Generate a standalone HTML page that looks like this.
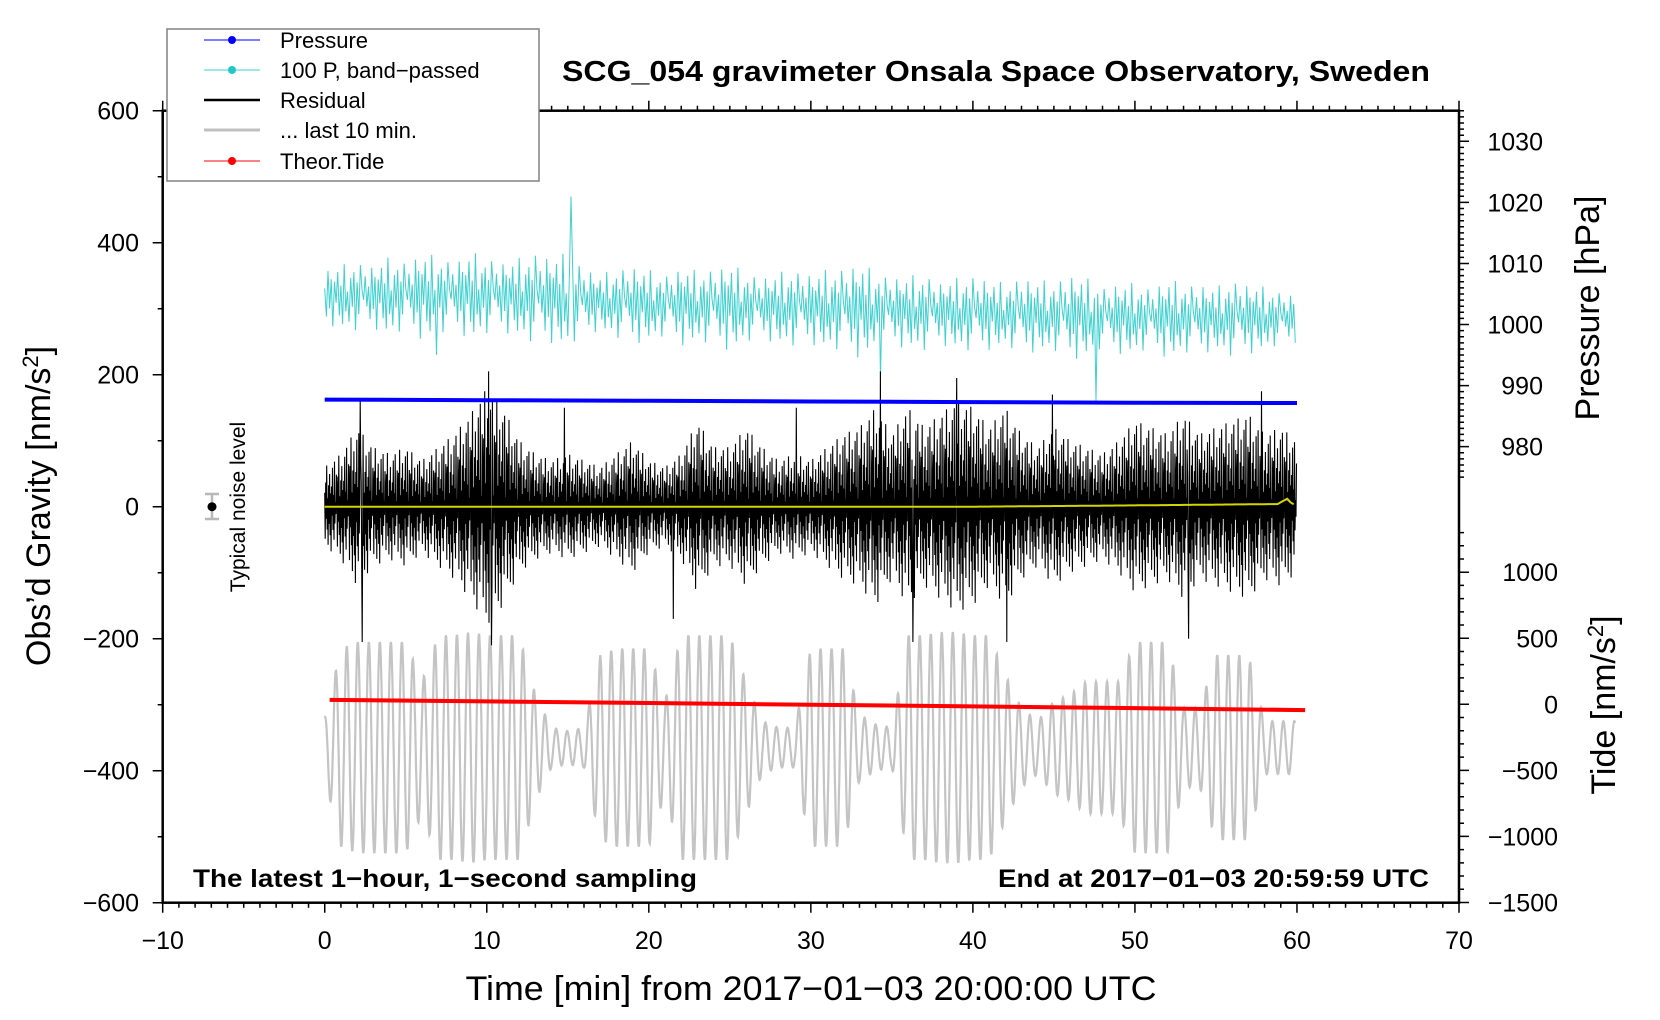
<!DOCTYPE html>
<html><head><meta charset="utf-8"><title>SCG_054 gravimeter</title>
<style>
html,body{margin:0;padding:0;background:#fff;}
svg{display:block;font-family:"Liberation Sans",Arial,sans-serif;}
</style></head>
<body>
<svg id="chart" width="1660" height="1020" viewBox="0 0 1660 1020" xmlns="http://www.w3.org/2000/svg">
<rect x="0" y="0" width="1660" height="1020" fill="#fff"/>
<g id="plot"></g>
<g id="axes"></g>
<g id="labels"></g>
</svg>
<script>
// ---- data ----
const xTicks = [-10, 0, 10, 20, 30, 40, 50, 60, 70];
const yTicks = [600, 400, 200, 0, -200, -400, -600];
const pTicks = [980, 990, 1000, 1010, 1020, 1030];
const tideTicks = [1000, 500, 0, -500, -1000, -1500];
// residual envelope amplitude per minute (nm/s^2)
const residAmp = [60,80,120,90,80,90,70,90,110,140,180,150,100,80,70,80,70,60,80,100,70,60,80,130,90,90,120,90,70,80,70,90,110,120,150,110,150,120,140,160,150,120,150,110,90,120,100,90,80,100,130,120,110,140,110,120,130,140,110,120,100];
const residSpikeT = [2.3, 2.2, 10.1, 10.3, 14.8, 21.5, 29.1, 34.3, 36.3, 39.0, 42.1, 44.9, 53.3, 57.8];
const residSpikeV = [-205, 160, 205, -210, 150, -170, 150, 205, -205, 195, -205, 170, -200, 175];
// band-passed pressure (100 P) centre per 10 min and amplitude per minute
const cyanCenterT = [0, 10, 20, 30, 40, 50, 60];
const cyanCenter = [318, 320, 305, 300, 292, 285, 285];
const cyanAmp = [35,40,45,40,50,45,55,50,45,55,50,45,50,60,55,60,45,35,45,50,45,40,50,45,50,55,45,40,45,50,45,50,55,60,50,45,45,50,40,45,50,45,40,50,45,45,55,50,40,45,45,40,50,45,45,40,50,45,40,35,30];
const cyanSpikeT = [15.2, 47.6, 34.3, 6.9];
const cyanSpikeV = [470, 160, 195, 230];
// pressure [hPa]
const presT = [0, 10, 20, 30, 40, 50, 60];
const presV = [987.7, 987.6, 987.5, 987.4, 987.3, 987.2, 987.15];
// yellow smoothed residual
const yelT = [0, 10, 20, 30, 40, 50, 58.8, 59.4, 59.7, 60];
const yelV = [0, 0, 0, 0, 0, 2, 4, 12, 4, 3];
// theoretical tide [nm/s^2]
const tideT = [0.3, 10, 20, 30, 40, 50, 60.5];
const tideV = [33, 22, 10, -3, -16, -29, -44];
// last 10 min (gray) amplitude per minute about its centre
const grayCenter = -365;
const grayAmp = [45,150,160,160,160,160,100,170,170,175,170,170,170,80,30,25,30,140,150,150,150,70,170,170,170,170,100,40,30,30,150,150,150,50,35,30,170,170,175,175,170,170,110,60,40,70,80,100,100,100,160,160,160,60,60,140,140,140,40,40,40];

// ---- scales ----
const X0 = 162.7, X1 = 1459, Y0 = 110.7, Y1 = 902.7;
const xs = t => X0 + (t + 10) / 80 * (X1 - X0);
const ys = v => 506.7 - v * 0.66;
const yp = p => 141.3 + (1030 - p) * 6.107;
const yt = v => 704.3 - v * 0.1321;
const NS = "http://www.w3.org/2000/svg";
function mk(tag, attrs, parent) {
  const e = document.createElementNS(NS, tag);
  for (const k in attrs) e.setAttribute(k, attrs[k]);
  parent.appendChild(e);
  return e;
}
function interp(ts, vs, t) {
  if (t <= ts[0]) return vs[0];
  for (let i = 1; i < ts.length; i++) if (t <= ts[i]) {
    const f = (t - ts[i-1]) / (ts[i] - ts[i-1]);
    return vs[i-1] + f * (vs[i] - vs[i-1]);
  }
  return vs[vs.length - 1];
}
const perMin = arr => t => { const i = Math.min(Math.floor(t), arr.length - 2); const f = t - i; return arr[i] + f * (arr[i+1] - arr[i]); };
const plot = document.getElementById('plot');
const axes = document.getElementById('axes');
const labels = document.getElementById('labels');

// gray last-10-min curve
{
  const a = perMin(grayAmp); let d = '';
  for (let t = 0; t <= 59.9; t += 0.02) {
    const v = grayCenter + a(t) * Math.cos(2 * Math.PI * t / 0.68);
    d += (d ? 'L' : 'M') + xs(t).toFixed(1) + ',' + ys(v).toFixed(1);
  }
  const g = mk('path', {d: d, fill: 'none', stroke: '#c4c4c4', 'stroke-width': 2.2}, plot);
  
  
}
// cyan band-passed pressure
{
  const pat = [0.3,-0.7,0.9,-0.4,0.6,-1,0.5,-0.2,0.8,-0.6,0.35,-0.85,1,-0.45,0.15,-0.75,0.55,-0.3,0.7,-0.95,0.4,-0.5,0.9,0.2,-0.1,0.6,-0.3];
  const a = perMin(cyanAmp); let d = ''; let i = 0;
  for (let t = 0; t <= 60; t += 0.1, i++) {
    let v = interp(cyanCenterT, cyanCenter, t) + 1.2 * a(t) * pat[i % pat.length];
    for (let k = 0; k < cyanSpikeT.length; k++) if (Math.abs(t - cyanSpikeT[k]) < 0.05) v = cyanSpikeV[k];
    d += (d ? 'L' : 'M') + xs(t).toFixed(1) + ',' + ys(v).toFixed(1);
  }
  const c = mk('path', {d: d, fill: 'none', stroke: '#3fd0d0', 'stroke-width': 1}, plot);
  
  
}
// black residual
{
  const pat = [0.35,-0.8,0.6,-0.3,1.0,-0.55,0.2,-0.9,0.5,-0.4,0.75,-0.65,0.3,-1.0,0.45,-0.2,0.85,-0.5,0.25,-0.7,0.95,-0.35,0.1,-0.15,0.65];
  const a = perMin(residAmp); let d = ''; let i = 0;
  for (let t = 0; t <= 60; t += 0.03, i++) {
    let v = a(t) * pat[i % pat.length];
    for (let k = 0; k < residSpikeT.length; k++) if (Math.abs(t - residSpikeT[k]) < 0.015) v = residSpikeV[k];
    d += (d ? 'L' : 'M') + xs(t).toFixed(1) + ',' + ys(v).toFixed(1);
  }
  const r = mk('path', {d: d, fill: 'none', stroke: '#000', 'stroke-width': 1.1}, plot);
  
  
}
// yellow
{
  let d = '';
  for (let t = 0; t <= 60; t += 0.2) d += (d ? 'L' : 'M') + xs(t).toFixed(1) + ',' + ys(interp(yelT, yelV, t)).toFixed(1);
  const y = mk('path', {d: d, fill: 'none', stroke: '#d4d400', 'stroke-width': 2}, plot);
  
  
}
// blue pressure
{
  let d = '';
  presT.forEach((t, i) => { d += (i ? 'L' : 'M') + xs(t).toFixed(1) + ',' + yp(presV[i]).toFixed(1); });
  const b = mk('path', {d: d, fill: 'none', stroke: '#0000ff', 'stroke-width': 4}, plot);
  
  
}
// red tide
{
  let d = '';
  tideT.forEach((t, i) => { d += (i ? 'L' : 'M') + xs(t).toFixed(1) + ',' + yt(tideV[i]).toFixed(1); });
  const r = mk('path', {d: d, fill: 'none', stroke: '#ff0000', 'stroke-width': 4}, plot);
  
  
}

// ---- axes ----
{
  const f = mk('rect', {x: X0, y: Y0, width: X1 - X0, height: Y1 - Y0, fill: 'none', stroke: '#000', 'stroke-width': 2.5}, axes);
  
  
  let d = '';
  for (let t = -10; t <= 70; t++) {
    const L = t % 10 === 0 ? 10 : 5;
    d += `M${xs(t)},${Y1}v${L}M${xs(t)},${Y0}v${-L}`;
  }
  for (let v = -600; v <= 600; v += 100) d += `M${X0},${ys(v)}h${v % 200 === 0 ? -10 : -5}`;
  for (let p = 975; p <= 1035; p++) d += `M${X1},${yp(p)}h${p % 10 === 0 ? 10 : 5}`;
  for (let v = -1500; v <= 1300; v += 100) d += `M${X1},${yt(v)}h${v % 500 === 0 ? 10 : 5}`;
  const tk = mk('path', {d: d, stroke: '#000', 'stroke-width': 1.5, fill: 'none'}, axes);
  
  
}
const fmt = v => (v < 0 ? '\u2212' + (-v) : '' + v);
xTicks.forEach(t => {
  const e = mk('text', {x: xs(t), y: 949, 'font-size': 25, 'text-anchor': 'middle'}, labels);
  e.textContent = fmt(t);
  
  
});
yTicks.forEach(v => {
  const e = mk('text', {x: 139, y: ys(v) + 9, 'font-size': 25, 'text-anchor': 'end'}, labels);
  e.textContent = fmt(v);
  
  
});
pTicks.forEach(p => {
  const e = mk('text', {x: 1543, y: yp(p) + 9, 'font-size': 25, 'text-anchor': 'end'}, labels);
  e.textContent = fmt(p);
  
  
});
tideTicks.forEach(v => {
  const e = mk('text', {x: 1558, y: yt(v) + 9, 'font-size': 25, 'text-anchor': 'end'}, labels);
  e.textContent = fmt(v);
  
  
});
</script>
<svg style="position:absolute;left:0;top:0" width="1660" height="1020" viewBox="0 0 1660 1020" xmlns="http://www.w3.org/2000/svg" font-family="Liberation Sans, Arial, sans-serif">
  <g>
    <path d="M205,494h14M212,494v25M205,519h14" stroke="#b8b8b8" stroke-width="2.5" fill="none"/>
    <circle cx="212" cy="506.7" r="4.5" fill="#000"/>
    <text x="245" y="507" font-size="21" text-anchor="middle" transform="rotate(-90 245 507)">Typical noise level</text>
  </g>
  <g>
    <rect x="167" y="29" width="372" height="152" fill="#fff" stroke="#808080" stroke-width="1.5"/>
    <g>
      <line x1="204" y1="40" x2="260" y2="40" stroke="#0000ff" stroke-width="1"/><circle cx="232" cy="40" r="4" fill="#0000ff"/>
      <text x="280" y="48" font-size="22">Pressure</text></g>
    <g>
      <line x1="204" y1="70" x2="260" y2="70" stroke="#3fd0d0" stroke-width="1"/><circle cx="232" cy="70" r="4" fill="#20c8c8"/>
      <text x="280" y="78" font-size="22">100 P, band−passed</text></g>
    <g>
      <line x1="204" y1="100" x2="260" y2="100" stroke="#000" stroke-width="2.5"/>
      <text x="280" y="108" font-size="22">Residual</text></g>
    <g>
      <line x1="204" y1="130" x2="260" y2="130" stroke="#c0c0c0" stroke-width="3"/>
      <text x="280" y="138" font-size="22">... last 10 min.</text></g>
    <g>
      <line x1="204" y1="161" x2="260" y2="161" stroke="#ff0000" stroke-width="1"/><circle cx="232" cy="161" r="4" fill="#ff0000"/>
      <text x="280" y="169" font-size="22">Theor.Tide</text></g>
  </g>
  <text x="996" y="81" font-size="29" font-weight="bold" text-anchor="middle" textLength="868" lengthAdjust="spacingAndGlyphs">SCG_054 gravimeter Onsala Space Observatory, Sweden</text>
  <text x="193" y="887" font-size="25" font-weight="bold" textLength="504" lengthAdjust="spacingAndGlyphs">The latest 1−hour, 1−second sampling</text>
  <text x="1429" y="887" font-size="25" font-weight="bold" text-anchor="end" textLength="431" lengthAdjust="spacingAndGlyphs">End at 2017−01−03 20:59:59 UTC</text>
  <text x="811" y="1000" font-size="34" text-anchor="middle" textLength="691" lengthAdjust="spacingAndGlyphs">Time [min] from 2017−01−03 20:00:00 UTC</text>
  <text x="50" y="506" font-size="34" text-anchor="middle" transform="rotate(-90 50 506)">Obs’d Gravity [nm/s<tspan font-size="22" dy="-12">2</tspan><tspan dy="12">]</tspan></text>
  <text x="1599" y="308" font-size="34" text-anchor="middle" transform="rotate(-90 1599 308)">Pressure [hPa]</text>
  <text x="1615" y="705" font-size="34" text-anchor="middle" transform="rotate(-90 1615 705)">Tide [nm/s<tspan font-size="22" dy="-12">2</tspan><tspan dy="12">]</tspan></text>
</svg>
</body></html>
